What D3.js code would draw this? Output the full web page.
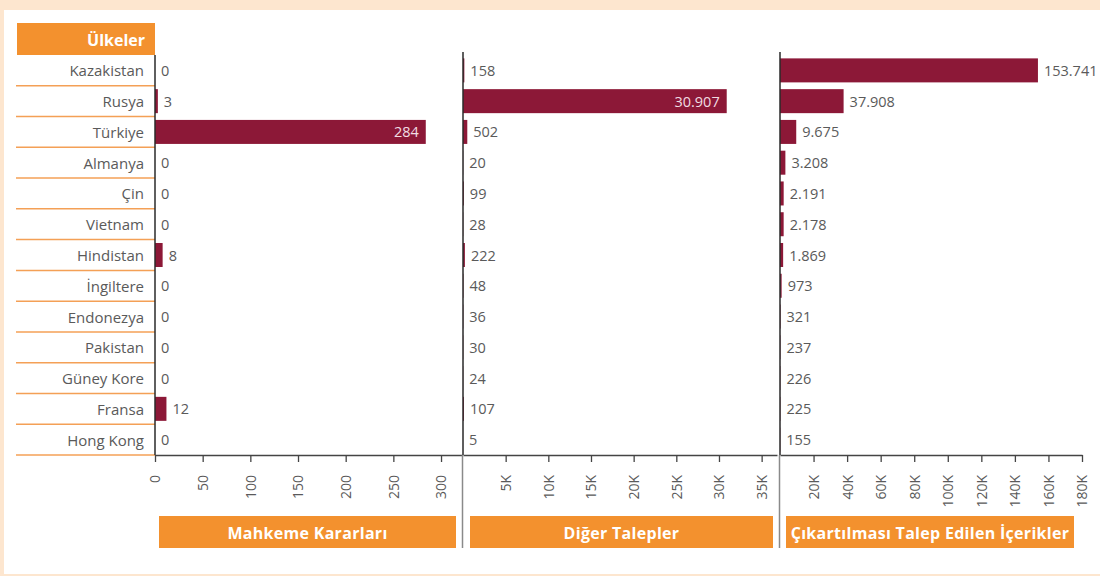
<!DOCTYPE html>
<html lang="tr">
<head>
<meta charset="utf-8">
<script src="https://cdn.jsdelivr.net/npm/d3@7"></script>
<style>
  html, body { margin: 0; padding: 0; background: #fde6cf; }
  svg { display: block; font-family: "Open Sans", "Noto Sans", sans-serif; }
</style>
</head>
<body>
<svg id="chart" width="1100" height="576"></svg>
<script>
// Countries, in display order
const countries = ["Kazakistan", "Rusya", "Türkiye", "Almanya", "Çin", "Vietnam", "Hindistan",
  "İngiltere", "Endonezya", "Pakistan", "Güney Kore", "Fransa", "Hong Kong"];

// Court orders per country
const courtOrders = [0, 3, 284, 0, 0, 0, 8, 0, 0, 0, 0, 12, 0];
// Other requests per country
const otherRequests = [158, 30907, 502, 20, 99, 28, 222, 48, 36, 30, 24, 107, 5];
// Items of content requested for removal per country
const contentItems = [153741, 37908, 9675, 3208, 2191, 2178, 1869, 973, 321, 237, 226, 225, 155];

// Panel titles and axis tick values
const panelTitles = ["Mahkeme Kararları", "Diğer Talepler", "Çıkartılması Talep Edilen İçerikler"];
const headerLabel = "Ülkeler";
const ticksCourt = [0, 50, 100, 150, 200, 250, 300];
const ticksOther = [5000, 10000, 15000, 20000, 25000, 30000, 35000];
const ticksContent = [20000, 40000, 60000, 80000, 100000, 120000, 140000, 160000, 180000];

const BAR = "#8c1837";
const ORANGE = "#f3912e";
const TEXT = "#5a5a5a";

const trLocale = d3.formatLocale({ decimal: ",", thousands: ".", grouping: [3], currency: ["", ""] });
const fmtValue = trLocale.format(",d");
const fmtK = v => v === 0 ? "0" : (v / 1000) + "K";

const svg = d3.select("#chart");

// page frame
svg.append("rect").attr("x", 0).attr("y", 0).attr("width", 1100).attr("height", 576).attr("fill", "#fde6cf");
svg.append("rect").attr("x", 4).attr("y", 10).attr("width", 1096).attr("height", 564).attr("fill", "#ffffff");

const plotTop = 55, plotBottom = 455;
const y = d3.scaleBand().domain(countries).range([plotTop, plotBottom]).paddingInner(0.22).paddingOuter(0.11);

// header box for the country column
svg.append("rect").attr("x", 17).attr("y", 23).attr("width", 138).attr("height", 32).attr("fill", ORANGE);
svg.append("text").attr("x", 145).attr("y", 40).attr("text-anchor", "end").attr("dominant-baseline", "central")
  .attr("fill", "#fff").attr("font-weight", 700).attr("font-size", 16).text(headerLabel);

// row separators and country names
const rowG = svg.append("g");
countries.forEach((c, i) => {
  const yb = plotTop + (i + 1) * y.step();
  rowG.append("line").attr("x1", 16).attr("x2", 155).attr("y1", yb).attr("y2", yb)
    .attr("stroke", "#f4a056").attr("stroke-width", 1.5);
});
rowG.selectAll("text.country").data(countries).join("text")
  .attr("class", "country")
  .attr("x", 144)
  .attr("y", d => y(d) + y.bandwidth() / 2)
  .attr("text-anchor", "end").attr("dominant-baseline", "central")
  .attr("fill", TEXT).attr("font-size", 15)
  .text(d => d);

const panels = [
  { values: courtOrders, domain: [0, 322], range: [155, 462], ticks: ticksCourt, fmt: d => String(d), box: [159, 456], labelLimit: 456 },
  { values: otherRequests, domain: [0, 36800], range: [463, 777], ticks: ticksOther, fmt: fmtK, box: [470, 773], labelLimit: 773 },
  { values: contentItems, domain: [0, 180000], range: [780, 1082], ticks: ticksContent, fmt: fmtK, box: [786, 1074], labelLimit: 1115 }
];

panels.forEach((p, pi) => {
  const x = d3.scaleLinear().domain(p.domain).range(p.range);
  const g = svg.append("g");

  // bars
  g.selectAll("rect.bar").data(p.values).join("rect")
    .attr("class", "bar")
    .attr("x", x(0))
    .attr("y", (d, i) => y(countries[i]))
    .attr("width", d => x(d) - x(0))
    .attr("height", y.bandwidth())
    .attr("fill", BAR);

  // value labels: outside the bar when they fit, otherwise inside at the bar end
  g.selectAll("text.val").data(p.values).join("text")
    .attr("class", "val")
    .attr("y", (d, i) => y(countries[i]) + y.bandwidth() / 2)
    .attr("dominant-baseline", "central")
    .attr("font-size", 14.5)
    .text(d => fmtValue(d))
    .each(function (d) {
      const w = this.getComputedTextLength();
      const end = x(d);
      const sel = d3.select(this);
      if (end + 6 + w > p.labelLimit) {
        sel.attr("x", end - 7).attr("text-anchor", "end").attr("fill", "#f1dce2");
      } else {
        sel.attr("x", end + 6).attr("text-anchor", "start").attr("fill", TEXT);
      }
    });

  // x axis
  const axis = d3.axisBottom(x).tickValues(p.ticks).tickFormat(p.fmt).tickSize(7).tickSizeOuter(0);
  const ag = svg.append("g").attr("transform", `translate(0,${plotBottom})`).call(axis);
  ag.select(".domain").attr("stroke", "#444").attr("stroke-width", 1.5);
  ag.selectAll(".tick line").attr("stroke", "#444").attr("stroke-width", 1.3);
  ag.selectAll(".tick text")
    .attr("fill", TEXT).attr("font-size", 14)
    .attr("font-family", "\"Open Sans\", sans-serif")
    .attr("transform", "rotate(-90)")
    .attr("text-anchor", "end")
    .attr("x", -20).attr("y", 0).attr("dy", "0.35em");

  // vertical baseline of the panel
  const x0 = x(0);
  g.append("line").attr("x1", x0).attr("x2", x0).attr("y1", pi === 0 ? plotTop : 52).attr("y2", plotBottom)
    .attr("stroke", "#2a2a2a").attr("stroke-width", 1.5);
  if (pi > 0) {
    g.append("line").attr("x1", x0 - 0.5).attr("x2", x0 - 0.5).attr("y1", plotBottom).attr("y2", 548)
      .attr("stroke", "#8a8a8a").attr("stroke-width", 1.5);
  }

  // panel title box
  svg.append("rect").attr("x", p.box[0]).attr("y", 516).attr("width", p.box[1] - p.box[0]).attr("height", 32)
    .attr("fill", ORANGE);
  svg.append("text").attr("x", (p.box[0] + p.box[1]) / 2).attr("y", 533)
    .attr("text-anchor", "middle").attr("dominant-baseline", "central")
    .attr("fill", "#fff").attr("font-weight", 700).attr("font-size", 16).attr("letter-spacing", 0.3)
    .text(panelTitles[pi]);
});
</script>
</body>
</html>
